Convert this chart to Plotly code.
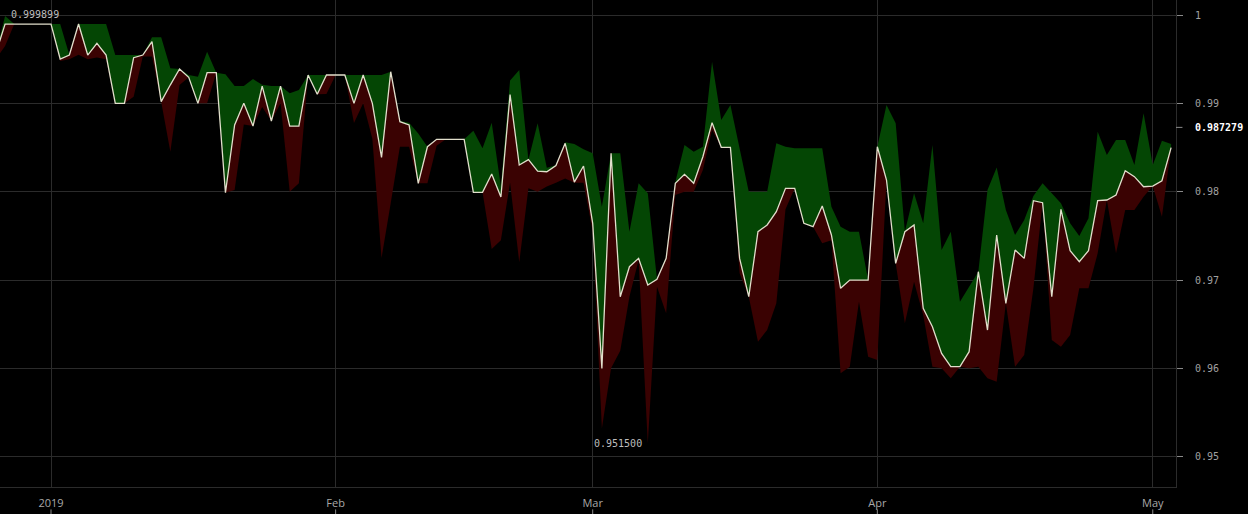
import pandas as pd
import plotly.graph_objects as go

# daily series, 2018-12-26 .. 2019-05-03
dates = pd.date_range("2018-12-26", "2019-05-03", freq="D")

close = [
    0.99570, 0.99898, 0.99898, 0.99898, 0.99898, 0.99898, 0.99898, 0.99502, 0.99547, 0.99898,
    0.99547, 0.99679, 0.99547, 0.99000, 0.99000, 0.99517, 0.99547, 0.99698, 0.99019, 0.99210,
    0.99389, 0.99295, 0.99000, 0.99347, 0.99347, 0.97988, 0.98755, 0.99000, 0.98743, 0.99196,
    0.98800, 0.99196, 0.98743, 0.98743, 0.99321, 0.99102, 0.99321, 0.99321, 0.99321, 0.99000,
    0.99321, 0.99000, 0.98389, 0.99358, 0.98792, 0.98755, 0.98095, 0.98509, 0.98593, 0.98593,
    0.98593, 0.98593, 0.97993, 0.97993, 0.98200, 0.97940, 0.99100, 0.98302, 0.98362, 0.98232,
    0.98226, 0.98296, 0.98547, 0.98108, 0.98291, 0.97642, 0.96000, 0.98434, 0.96811, 0.97151,
    0.97245, 0.96944, 0.97008, 0.97245, 0.98095, 0.98197, 0.98095, 0.98396, 0.98781, 0.98502,
    0.98502, 0.97245, 0.96811, 0.97547, 0.97623, 0.97773, 0.98038, 0.98038, 0.97642, 0.97604,
    0.97838, 0.97510, 0.96906, 0.97000, 0.97000, 0.97000, 0.98509, 0.98132, 0.97189, 0.97547,
    0.97623, 0.96680, 0.96472, 0.96170, 0.96019, 0.96019, 0.96189, 0.97094, 0.96434, 0.97510,
    0.96736, 0.97340, 0.97245, 0.97898, 0.97875, 0.96811, 0.97800, 0.97332, 0.97208, 0.97332,
    0.97898, 0.97906, 0.97962, 0.98238, 0.98170, 0.98056, 0.98064, 0.98124, 0.98498,
]

high = [
    0.99570, 0.999899, 0.99898, 0.99898, 0.99898, 0.99898, 0.99898, 0.99898, 0.99547, 0.99898,
    0.99898, 0.99898, 0.99898, 0.99547, 0.99547, 0.99547, 0.99547, 0.99748, 0.99748, 0.99396,
    0.99389, 0.99320, 0.99300, 0.99585, 0.99347, 0.99330, 0.99196, 0.99196, 0.99275, 0.99210,
    0.99196, 0.99196, 0.99113, 0.99151, 0.99321, 0.99321, 0.99321, 0.99321, 0.99321, 0.99321,
    0.99321, 0.99321, 0.99321, 0.99358, 0.98800, 0.98781, 0.98660, 0.98509, 0.98593, 0.98593,
    0.98593, 0.98593, 0.98690, 0.98491, 0.98781, 0.98060, 0.99260, 0.99377, 0.98362, 0.98774,
    0.98270, 0.98300, 0.98560, 0.98540, 0.98480, 0.98434, 0.97830, 0.98434, 0.98434, 0.97547,
    0.98095, 0.97982, 0.97008, 0.97245, 0.98110, 0.98528, 0.98453, 0.98509, 0.99472, 0.98811,
    0.98981, 0.98491, 0.98000, 0.98000, 0.98000, 0.98547, 0.98509, 0.98491, 0.98491, 0.98491,
    0.98491, 0.97830, 0.97604, 0.97547, 0.97547, 0.97000, 0.98509, 0.98981, 0.98774, 0.97547,
    0.97982, 0.97642, 0.98528, 0.97340, 0.97547, 0.96755, 0.96925, 0.97094, 0.98019, 0.98275,
    0.97793, 0.97510, 0.97679, 0.97950, 0.98095, 0.97982, 0.97868, 0.97642, 0.97498, 0.97699,
    0.98679, 0.98415, 0.98585, 0.98585, 0.98302, 0.98887, 0.98302, 0.98577, 0.98540,
]

low = [
    0.99500, 0.99650, 0.99898, 0.99898, 0.99898, 0.99898, 0.99898, 0.99480, 0.99500, 0.99550,
    0.99500, 0.99520, 0.99500, 0.99000, 0.99000, 0.99075, 0.99530, 0.99530, 0.99019, 0.98453,
    0.99207, 0.99295, 0.99000, 0.99000, 0.99347, 0.97988, 0.98019, 0.98760, 0.98743, 0.98960,
    0.98800, 0.99000, 0.98000, 0.98095, 0.99321, 0.99102, 0.99106, 0.99321, 0.99321, 0.98777,
    0.99000, 0.98600, 0.97249, 0.97870, 0.98509, 0.98509, 0.98095, 0.98095, 0.98520, 0.98593,
    0.98593, 0.98593, 0.97993, 0.97993, 0.97350, 0.97450, 0.98100, 0.97200, 0.98040, 0.98000,
    0.98060, 0.98100, 0.98150, 0.98100, 0.98100, 0.97550, 0.95320, 0.96000, 0.96200, 0.96811,
    0.97227, 0.95150, 0.96925, 0.96623, 0.97962, 0.98000, 0.98000, 0.98245, 0.98698, 0.98502,
    0.98502, 0.97076, 0.96811, 0.96302, 0.96434, 0.96736, 0.97800, 0.98038, 0.97642, 0.97604,
    0.97415, 0.97450, 0.95944, 0.96019, 0.96755, 0.96132, 0.96094, 0.98132, 0.97189, 0.96510,
    0.96981, 0.96600, 0.96019, 0.96000, 0.95888, 0.96019, 0.96000, 0.96019, 0.95888, 0.95849,
    0.96736, 0.96019, 0.96151, 0.96906, 0.97875, 0.96321, 0.96245, 0.96378, 0.96906, 0.96906,
    0.97302, 0.97906, 0.97302, 0.97793, 0.97793, 0.97943, 0.98064, 0.97717, 0.98498,
]

last_price = 0.987279
month_ticks = ["2019-01-01", "2019-02-01", "2019-03-01", "2019-04-01", "2019-05-01"]
month_labels = ["2019", "Feb", "Mar", "Apr", "May"]

GREEN = "#044604"
RED = "#3a0202"
LINE = "#e2dfcc"
GRID = "#2b2b2b"
MONO = "DejaVu Sans Mono"

fig = go.Figure()
fig.add_trace(go.Scatter(x=dates, y=low, mode="lines", line=dict(width=0), hoverinfo="skip"))
fig.add_trace(go.Scatter(x=dates, y=close, mode="lines", line=dict(width=0),
                         fill="tonexty", fillcolor=RED, hoverinfo="skip"))
fig.add_trace(go.Scatter(x=dates, y=high, mode="lines", line=dict(width=0),
                         fill="tonexty", fillcolor=GREEN, hoverinfo="skip"))
fig.add_trace(go.Scatter(x=dates, y=close, mode="lines", line=dict(color=LINE, width=1.3)))

# max / min labels
i_max = high.index(max(high))
i_min = low.index(min(low))
fig.add_annotation(x=dates[i_max], y=high[i_max], text=f"{high[i_max]:.6f}", showarrow=False,
                   xanchor="left", yanchor="middle", xshift=4, yshift=1,
                   font=dict(family=MONO, size=10, color="#bdbdbd"))
fig.add_annotation(x=dates[i_min], y=low[i_min], text=f"{low[i_min]:.6f}", showarrow=False,
                   xanchor="right", yanchor="middle", xshift=-4,
                   font=dict(family=MONO, size=10, color="#bdbdbd"))

# current price on the right axis
fig.add_annotation(x=1, xref="paper", y=last_price, text=f"<b>{last_price:.6f}</b>", showarrow=False,
                   xanchor="left", yanchor="middle", xshift=17,
                   font=dict(family=MONO, size=10, color="#ffffff"))
fig.add_shape(type="line", xref="paper", yref="y", x0=1, x1=1.0055, y0=last_price, y1=last_price,
              line=dict(color="#8a8a8a", width=1))

# small tick marks under the month labels
for t in month_ticks:
    fig.add_shape(type="line", xref="x", yref="paper", x0=t, x1=t, y0=-0.046, y1=-0.06,
                  line=dict(color="#8a8a8a", width=1))

fig.update_layout(
    width=1248, height=514,
    paper_bgcolor="#000000", plot_bgcolor="#000000",
    margin=dict(l=0, r=72, t=0, b=27, autoexpand=False),
    showlegend=False, hovermode=False,
)
fig.update_xaxes(
    range=["2018-12-26 10:40", "2019-05-03 12:45"],
    tickvals=month_ticks, ticktext=month_labels, ticks="",
    showgrid=True, gridcolor=GRID, gridwidth=1,
    showline=True, linecolor=GRID, linewidth=1,
    zeroline=False, ticklabelstandoff=6,
    tickfont=dict(family="Open Sans", size=11, color="#a8a8a8"),
)
fig.update_yaxes(
    side="right", range=[0.94657, 1.0017], dtick=0.01, tick0=0.95,
    ticks="outside", ticklen=6, tickcolor="#8a8a8a",
    showgrid=True, gridcolor=GRID, gridwidth=1,
    showline=True, linecolor=GRID, linewidth=1,
    zeroline=False, ticklabelstandoff=10,
    tickfont=dict(family=MONO, size=10, color="#a0a0a0"),
)

fig.write_html("out.html", config={"displayModeBar": False},
               post_script="document.body.style.margin='0';")
